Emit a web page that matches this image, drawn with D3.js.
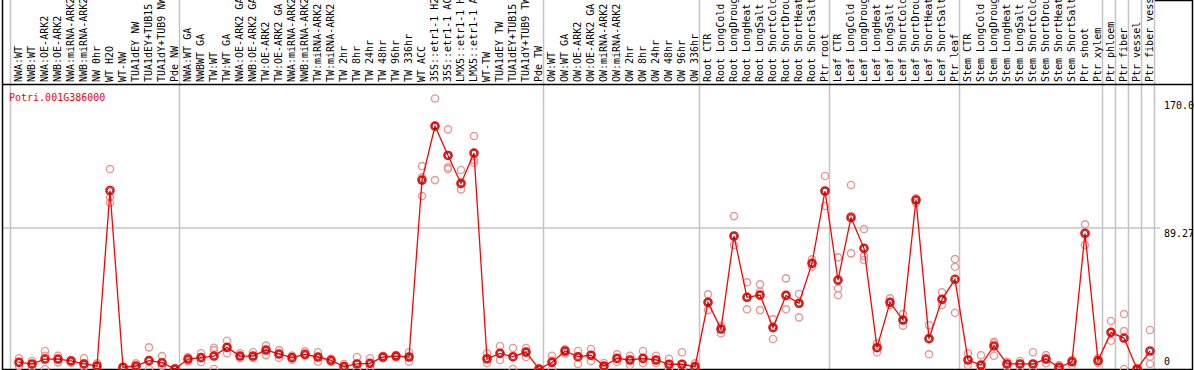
<!DOCTYPE html>
<html>
<head>
<meta charset="utf-8">
<script src="https://cdn.jsdelivr.net/npm/d3@7"></script>
<style>
  body { margin: 0; background: #fff; }
  text { font-family: "DejaVu Sans Mono", monospace; font-size: 10px; }
</style>
</head>
<body>
<div id="chart"></div>
<script>
const title = "Potri.001G386000";

const samples = [
  "NWA:WT", "NWB:WT", "NWA:OE-ARK2", "NWB:OE-ARK2", "NWA:miRNA-ARK2", "NWB:miRNA-ARK2",
  "NW 0hr", "WT H2O", "WT-NW", "TUA1dEY NW", "TUA1dEY+TUB15 NW", "TUA1dY+TUB9 NW", "Pde NW",
  "NWA:WT GA", "NWBWT GA", "TW:WT", "TW:WT GA", "NWA:OE-ARK2 GA", "NWB:OE-ARK2 GA",
  "TW:OE-ARK2", "TW:OE-ARK2 GA", "NWA:miRNA-ARK2", "NWB:miRNA-ARK2", "TW:miRNA-ARK2",
  "TW:miRNA-ARK2 ", "TW 2hr", "TW 8hr", "TW 24hr", "TW 48hr", "TW 96hr", "TW 336hr",
  "WT ACC", "35S::etr1-1 H2O", "35S::etr1-1 ACC", "LMX5::etr1-1 H2O", "LMX5::etr1-1 ACC",
  "WT-TW", "TUA1dEY TW", "TUA1dEY+TUB15 TW", "TUA1dY+TUB9 TW", "Pde TW",
  "OW:WT", "OW:WT GA", "OW:OE-ARK2", "OW:OE-ARK2 GA", "OW:miRNA-ARK2", "OW:miRNA-ARK2 ",
  "OW 2hr", "OW 8hr", "OW 24hr", "OW 48hr", "OW 96hr", "OW 336hr",
  "Root CTR", "Root LongCold", "Root LongDrought", "Root LongHeat", "Root LongSalt",
  "Root ShortCold", "Root ShortDrought", "Root ShortHeat", "Root ShortSalt", "Ptr root",
  "Leaf CTR", "Leaf LongCold", "Leaf LongDrought", "Leaf LongHeat", "Leaf LongSalt",
  "Leaf ShortCold", "Leaf ShortDrought", "Leaf ShortHeat", "Leaf ShortSalt", "Ptr leaf",
  "Stem CTR", "Stem LongCold", "Stem LongDrought", "Stem LongHeat", "Stem LongSalt",
  "Stem ShortCold", "Stem ShortDrought", "Stem ShortHeat", "Stem ShortSalt", "Ptr shoot",
  "Ptr xylem", "Ptr phloem", "Ptr fiber", "Ptr vessel", "Ptr fiber vessels"
];

const means = [
  4.2, 3.2, 6.3, 6.3, 5.1, 3.2, 1.9, 113, 1.1, 1.9, 5.3, 4, 0,
  6.3, 7.2, 8.2, 13.7, 8.2, 8.2, 12, 9.5, 7.2, 9.3, 7.6, 5.5, 1.5, 3.2, 3.6, 7.6, 8.2, 7.6,
  119.6, 153.8, 135.2, 117.5, 136.7, 6.5, 9.9, 7.8, 10.7, 0,
  4.2, 11.4, 7.8, 8.7, 1.9, 6.7, 5.7, 6.7, 5.7, 3, 3, 1.5,
  42.2, 25.3, 84.2, 45.4, 46.8, 26.2, 46.6, 41.6, 66.9, 112.7,
  56.3, 95.8, 76.4, 13.5, 42.2, 31, 107, 19.2, 44.1, 56.8,
  5.7, 2.5, 14.6, 3.2, 3.2, 3.2, 6.3, 1.1, 4.6, 85.9,
  5.3, 23.2, 19.6, 0, 11.4
];

const replicates = [
  [6.8, 4.2, 1.9], [5.1, 3.2, 1.5], [11.4, 8.4, 0], [8.4, 6.3, 4.2], [5.7, 5.1, 4],
  [6.8, 3.6, 1.5], [3.6, 2.1, 1.5], [126.6, 108.7, 105.3], [1.3, 1, 0.6], [3.6, 1.9, 0.6],
  [13.7, 5.3, 0], [8.2, 3.8, 2], [0.6, 0.2, 0],
  [7.6, 6.3, 5], [10, 7.2, 4.4], [13.5, 12, 0], [17.9, 13.5, 10], [10, 8.2, 6.8],
  [10.6, 8.2, 7], [14.8, 12, 8.8], [12, 9.5, 7], [8.5, 7.2, 5.9], [11.2, 9.5, 8.4],
  [10.6, 7.6, 4.6], [6.5, 5.5, 4.4], [3.2, 1.5, 0], [7.6, 3.2, 0], [6.8, 3.6, 0.6],
  [8.4, 7.6, 6.8], [8.8, 8.2, 7.4], [10.6, 7.6, 4.6],
  [128.5, 121.3, 109.5], [171.3, 153.8, 119.6], [151.7, 135.2, 127.7, 126.6],
  [126, 117.5, 113.7], [147.5, 132.3, 130.6], [10, 6.5, 3.8], [14.6, 10, 5.7],
  [13.3, 7.6, 0], [13.3, 10.6, 7.6], [0, 0, 0],
  [8.4, 5.3, 0], [12.4, 11.4, 10], [11.4, 7.6, 3.2], [12.7, 8.7, 5.1], [3.8, 1.9, 0.6],
  [9.3, 6.7, 4.6], [8.4, 5.7, 2.5], [11.4, 6.7, 3.8], [8.4, 5.7, 3.8], [6.5, 3, 0.6],
  [10.6, 3, 0], [3.6, 1.5, 0],
  [47.3, 42.2, 37.3], [27.2, 25.3, 22.6], [96.8, 84.2, 78.5], [54.9, 45.4, 37.8],
  [53.6, 48.9, 37.3], [31.4, 26.2, 19], [57.4, 46.6, 37.8], [47.5, 41.6, 32.7],
  [69.4, 66.9, 64.7], [122.2, 112.7, 103.2],
  [70.7, 51.1, 46.8], [116.5, 96.8, 73.2], [88.6, 71.5, 69], [16.3, 13.5, 10.6],
  [44.7, 42.2, 40.5], [34.8, 31, 27.4], [108, 107, 105.3], [27.8, 19.2, 9.3],
  [48.5, 44.1, 40.5], [69.6, 64.7, 35.6],
  [10, 5.7, 2.5], [8.7, 2.5, 0.6], [17.3, 16.3, 8.4], [4.6, 3.2, 1.5], [5.1, 3.2, 1.1],
  [10.6, 3.2, 0.6], [8.8, 6.3, 3.6], [2.5, 1.1, 0], [5.7, 4.6, 2.5], [91.6, 85.9, 78.5],
  [6.8, 5.3, 3.8], [30.4, 23.2, 17.9], [34.8, 24, 0], [0, 0, 0], [24.7, 7.8, 3.2]
];

// column index where each group starts (last one = end)
const groupBreaks = [0, 13, 41, 53, 63, 73, 84, 85, 86, 87, 88];

const tickValues = [0, 89.27, 170];
const tickLabels = ["0", "89.27", "170.0"];

const width = 1194, height = 370;
const svg = d3.select("#chart").append("svg")
  .attr("width", width)
  .attr("height", height);

const x = d3.scalePoint().domain(d3.range(samples.length)).range([19, 1150]);
const step = x.step();
const y = d3.scaleLinear().domain([0, 89.27]).range([369, 228]);

// group separators
svg.append("g").selectAll("line")
  .data(groupBreaks)
  .join("line")
  .attr("x1", d => x(0) + d * step - 8.5)
  .attr("x2", d => x(0) + d * step - 8.5)
  .attr("y1", 0)
  .attr("y2", height)
  .attr("stroke", "#c4c4c4")
  .attr("stroke-width", 1.5);

// horizontal grid line at the middle tick
svg.append("line")
  .attr("x1", 2).attr("x2", 1160)
  .attr("y1", y(89.27)).attr("y2", y(89.27))
  .attr("stroke", "#c4c4c4")
  .attr("stroke-width", 1.5);

// frame
svg.append("line").attr("x1", 2.5).attr("x2", 2.5).attr("y1", 0).attr("y2", height)
  .attr("stroke", "#000").attr("stroke-width", 1.5);
svg.append("line").attr("x1", 1192.5).attr("x2", 1192.5).attr("y1", 0).attr("y2", height)
  .attr("stroke", "#000").attr("stroke-width", 1.5);
svg.append("line").attr("x1", 2).attr("x2", 1193).attr("y1", 84.5).attr("y2", 84.5)
  .attr("stroke", "#000").attr("stroke-width", 1.5);
svg.append("line").attr("x1", 1155).attr("x2", 1193).attr("y1", 0.5).attr("y2", 0.5)
  .attr("stroke", "#000").attr("stroke-width", 1.5);
svg.append("line").attr("x1", 2).attr("x2", 1193).attr("y1", 369.5).attr("y2", 369.5)
  .attr("stroke", "#000").attr("stroke-width", 1.5);

// sample labels (rotated)
svg.append("g").selectAll("text")
  .data(samples)
  .join("text")
  .attr("transform", (d, i) => `translate(${x(i) - 1},82) rotate(-90)`)
  .attr("dy", "0.35em")
  .attr("fill", "#000")
  .text(d => d.trim());

// title
svg.append("text")
  .attr("x", 9)
  .attr("y", 101)
  .attr("fill", "#ff0000")
  .text(title);

// right value labels
svg.append("g").selectAll("text")
  .data(tickValues)
  .join("text")
  .attr("x", 1164)
  .attr("y", (d, i) => i === 0 ? y(d) - 4 : y(d) + 9)
  .attr("fill", "#000")
  .text((d, i) => tickLabels[i]);

// replicate points
const repPts = replicates.flatMap((r, i) => r.map(v => ({ i, v })));
svg.append("g").selectAll("circle")
  .data(repPts)
  .join("circle")
  .attr("cx", d => x(d.i))
  .attr("cy", d => y(d.v))
  .attr("r", 3.6)
  .attr("fill", "none")
  .attr("stroke", "#eb9595")
  .attr("stroke-width", 1.4);

// mean line
const line = d3.line()
  .x((d, i) => x(i))
  .y(d => y(d));
svg.append("path")
  .datum(means)
  .attr("d", line)
  .attr("fill", "none")
  .attr("stroke", "#ff0000")
  .attr("stroke-width", 1.3);

// mean markers
const mk = svg.append("g").selectAll("g")
  .data(means)
  .join("g")
  .attr("transform", (d, i) => `translate(${x(i)},${y(d)})`);
mk.append("circle")
  .attr("r", 4)
  .attr("fill", "none")
  .attr("stroke", "#ff0000")
  .attr("stroke-width", 1.6);
mk.append("circle")
  .attr("r", 2.8)
  .attr("fill", "none")
  .attr("stroke", "#5a0000")
  .attr("stroke-width", 0.8);
</script>
</body>
</html>
